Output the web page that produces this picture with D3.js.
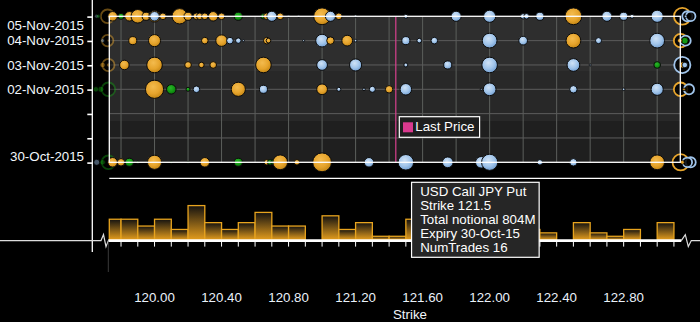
<!DOCTYPE html>
<html><head><meta charset="utf-8">
<script src="https://cdn.jsdelivr.net/npm/d3@7"></script>
<style>html,body{margin:0;padding:0;background:#000;overflow:hidden}
svg{display:block;font-family:"Liberation Sans",Arial,sans-serif}</style>
</head><body><svg id="c" width="700" height="322"></svg>
<script>
// ---------- data ----------
// bubble tuples: [strike, total notional (M), type]  C = USD Call JPY Put, P = USD Put JPY Call, S = other
const expiries = ["2015-10-30","2015-10-31","2015-11-01","2015-11-02","2015-11-03","2015-11-04","2015-11-05"];
const labelledExpiries = ["2015-10-30","2015-11-02","2015-11-03","2015-11-04","2015-11-05"];
const trades_05Nov = [
 [119.75,300,"P"],[119.80,122,"S"],[119.85,300,"P"],[119.90,609,"P"],[119.95,217,"P"],
 [120.00,440,"P"],[120.00,300,"C"],[120.05,148,"P"],[120.15,780,"P"],[120.20,217,"P"],
 [120.25,148,"P"],[120.27,148,"P"],[120.30,148,"P"],[120.35,300,"P"],[120.40,148,"P"],
 [120.50,217,"S"],[120.65,99,"S"],[120.67,148,"P"],[120.70,339,"C"],[120.75,148,"P"],
 [120.80,14,"C"],[120.86,14,"C"],[121.00,934,"P"],[121.05,339,"C"],[121.10,148,"P"],
 [121.20,23,"C"],[121.50,54,"C"],[121.80,339,"C"],[122.00,488,"C"],[122.20,99,"C"],
 [122.22,99,"C"],[122.30,217,"C"],[122.50,934,"P"],[122.70,339,"C"],[122.80,217,"C"],
 [122.85,54,"C"],[123.00,488,"C"]
];
const trades_04Nov = [
 [119.87,217,"P"],[120.00,488,"P"],[120.30,148,"P"],[120.40,440,"P"],[120.45,148,"C"],
 [120.50,99,"C"],[120.53,14,"C"],[120.67,148,"P"],[120.68,72,"P"],[120.89,14,"C"],
 [121.00,538,"C"],[121.05,186,"P"],[121.15,381,"P"],[121.20,23,"C"],[121.50,217,"C"],
 [121.58,72,"C"],[121.67,148,"C"],[122.00,723,"C"],[122.20,251,"C"],[122.50,723,"P"],
 [122.65,122,"C"],[123.00,723,"C"]
];
const trades_03Nov = [
 [119.82,300,"P"],[120.00,804,"P"],[120.20,148,"P"],[120.28,99,"P"],[120.35,148,"P"],
 [120.65,804,"P"],[121.00,381,"C"],[121.20,488,"C"],[121.50,54,"C"],[121.75,217,"C"],
 [122.00,804,"C"],[122.50,538,"C"],[122.60,14,"C"],[123.00,148,"S"]
];
const trades_02Nov = [
 [120.00,1098,"P"],[120.10,300,"S"],[120.20,54,"S"],[120.25,148,"C"],[120.50,664,"P"],
 [120.65,217,"C"],[121.00,381,"P"],[121.10,54,"C"],[121.25,23,"C"],[121.30,122,"C"],
 [121.40,186,"P"],[121.50,440,"C"],[121.95,14,"C"],[122.00,538,"C"],[122.50,186,"C"],
 [122.80,23,"C"],[123.00,488,"C"]
];
const trades_30Oct = [
 [119.75,300,"P"],[119.80,186,"P"],[119.85,217,"S"],[119.90,23,"S"],[120.00,664,"P"],
 [120.10,14,"S"],[120.20,14,"S"],[120.30,300,"P"],[120.50,217,"S"],[120.67,99,"P"],
 [120.69,99,"S"],[120.71,99,"S"],[120.75,723,"P"],[120.85,99,"P"],[121.00,1173,"P"],
 [121.28,300,"C"],[121.50,804,"C"],[121.75,381,"C"],[121.95,440,"C"],[122.00,868,"C"],
 [122.30,99,"C"],[122.50,186,"C"],[123.00,723,"P"]
];
// strikes outside the axis break
const outliers_05Nov = [[119.655,54,"C"],[119.665,54,"S"],[119.72,609,"P"],[123.15,934,"P"],[123.18,339,"C"],[123.20,300,"C"],[123.17,23,"C"]];
const outliers_04Nov = [[119.69,54,"C"],[119.72,440,"P"],[119.725,23,"P"],[123.14,609,"P"],[123.17,339,"C"],[123.165,148,"S"],[123.135,72,"P"]];
const outliers_03Nov = [[119.69,99,"P"],[119.725,488,"P"],[119.725,54,"P"],[123.15,868,"C"],[123.15,122,"P"],[123.165,99,"C"]];
const outliers_02Nov = [[119.65,99,"S"],[119.68,122,"S"],[119.725,609,"S"],[123.14,609,"P"],[123.19,339,"C"],[123.16,23,"P"]];
const outliers_30Oct = [[119.655,122,"C"],[119.69,99,"S"],[119.725,609,"S"],[123.14,868,"P"],[123.18,300,"C"],[123.20,339,"C"],[123.15,54,"P"]];

const histBinStarts = [119.7,119.8,119.9,120.0,120.1,120.2,120.3,120.4,120.5,120.6,120.7,120.8,120.9,121.0,121.1,121.2,121.3,121.4,121.5,121.6,121.7,121.8,121.9,122.0,122.1,122.2,122.3,122.4,122.5,122.6,122.7,122.8,122.9,123.0];
const histValues    = [6,6,4,6,3,10,5,3,5,8,4,4,0,7,3,5,1,1,6,3,4,2,3,8,0,3,2,0,5,2,1,3,0,5];
const xTickLabels = [120.00,120.40,120.80,121.20,121.60,122.00,122.40,122.80];
const strikeDomain = [119.73,123.138];
const lastPrice = 121.44;
const tooltipLines = ["USD Call JPY Put","Strike 121.5","Total notional 804M","Expiry 30-Oct-15","NumTrades 16"];
const tooltipTrade = {strike:121.5, expiry:"2015-10-30"};

// ---------- setup ----------
const parse = d3.utcParse("%Y-%m-%d");
const fmtDate = d3.utcFormat("%d-%b-%Y");
const svg = d3.select("#c");
const W = 700, H = 322;
const P = {l:109.3, r:680.3, t:16.3, b:162.3};
const x = d3.scaleLinear().domain(strikeDomain).range([P.l, P.r]);
const y = d3.scaleUtc().domain([parse(expiries[0]), parse(expiries[expiries.length-1])]).range([P.b, P.t]);
const rScale = d3.scaleSqrt().domain([0, 804]).range([0, 7.8]);
const HB = {base:239.7, top:178.3};
const hy = d3.scaleLinear().domain([0,18]).range([HB.base, HB.top]);

const colors = {P:["#f3bb4e","#e6a42c","#c48614"], C:["#cfe2f6","#a0c4ea","#74a0d2"], S:["#2ab52a","#139813","#0a700a"]};
const solid = {P:"#e6a42c", C:"#a0c4ea", S:"#139813"};
const defs = svg.append("defs");
Object.entries(colors).forEach(([k,c])=>{
  const g = defs.append("radialGradient").attr("id","g"+k).attr("cx","42%").attr("cy","36%").attr("r","65%");
  g.append("stop").attr("offset","0%").attr("stop-color",c[0]);
  g.append("stop").attr("offset","60%").attr("stop-color",c[1]);
  g.append("stop").attr("offset","100%").attr("stop-color",c[2]);
});
const bg = defs.append("linearGradient").attr("id","bgBand").attr("x1",0).attr("y1",0).attr("x2",0).attr("y2",1);
[[0,"#2e2e2e"],[0.3726,"#2e2e2e"],[0.3726,"#282828"],[0.715,"#282828"],[0.715,"#1f1f1f"],[1,"#1f1f1f"]]
  .forEach(([o,c])=>bg.append("stop").attr("offset",o).attr("stop-color",c));
const hg = defs.append("linearGradient").attr("id","barG").attr("x1",0).attr("y1",0).attr("x2",0).attr("y2",1);
hg.append("stop").attr("offset",0).attr("stop-color","#141210");
hg.append("stop").attr("offset",1).attr("stop-color","#e39c1c");

svg.append("rect").attr("width",W).attr("height",H).attr("fill","#000");

// plot background and grid
svg.append("rect").attr("x",P.l).attr("y",P.t).attr("width",P.r-P.l).attr("height",P.b-P.t).attr("fill","url(#bgBand)");
const gridX = d3.range(119.8, 123.01, 0.2);
svg.append("g").selectAll("line").data(gridX).join("line")
  .attr("x1",d=>x(d)).attr("x2",d=>x(d)).attr("y1",P.t).attr("y2",P.b)
  .attr("stroke","#5c5f5c").attr("stroke-width",1);
svg.append("g").selectAll("line").data(expiries.slice(1,-1)).join("line")
  .attr("x1",P.l).attr("x2",P.r).attr("y1",d=>y(parse(d))).attr("y2",d=>y(parse(d)))
  .attr("stroke","#5c5c5c").attr("stroke-width",1);

// last price line
svg.append("line").attr("x1",x(lastPrice)).attr("x2",x(lastPrice)).attr("y1",P.t).attr("y2",P.b)
  .attr("stroke","#d8408f").attr("stroke-width",1.2);

// bubbles
const rows = [["2015-11-05",trades_05Nov,outliers_05Nov],["2015-11-04",trades_04Nov,outliers_04Nov],
  ["2015-11-03",trades_03Nov,outliers_03Nov],["2015-11-02",trades_02Nov,outliers_02Nov],["2015-10-30",trades_30Oct,outliers_30Oct]];
const bubG = svg.append("g");
rows.forEach(([date, trades, outs])=>{
  const cy = y(parse(date));
  const os = outs.slice().sort((a,b)=>b[1]-a[1]);
  bubG.append("g").selectAll("circle").data(os).join("circle")
    .attr("cx",d=>x(d[0])).attr("cy",cy).attr("r",d=>rScale(d[1]))
    .attr("fill",d=>rScale(d[1])>4.5 ? "#000" : solid[d[2]])
    .attr("fill-opacity",d=>rScale(d[1])>4.5 ? 0.85 : 1)
    .attr("stroke",d=>rScale(d[1])>4.5 ? solid[d[2]] : "#000")
    .attr("stroke-width",d=>rScale(d[1])>4.5 ? 1.8 : 0.8)
    .attr("opacity",d=>d[0]<strikeDomain[0] ? 0.45 : 1);
  bubG.append("g").selectAll("circle").data(trades).join("circle")
    .attr("cx",d=>x(d[0])).attr("cy",cy).attr("r",d=>Math.max(1,rScale(d[1])))
    .attr("fill",d=>"url(#g"+d[2]+")").attr("stroke","#0b0b0b").attr("stroke-width",1);
});

// plot frame
svg.append("rect").attr("x",P.l).attr("y",P.t).attr("width",P.r-P.l).attr("height",P.b-P.t)
  .attr("fill","none").attr("stroke","#fff").attr("stroke-width",1.3);

// y axis
const axX = 92.3;
svg.append("line").attr("x1",axX).attr("x2",axX).attr("y1",0).attr("y2",252).attr("stroke","#fff").attr("stroke-width",1.3);
svg.append("g").selectAll("line").data(expiries).join("line")
  .attr("x1",axX-5).attr("x2",axX).attr("y1",d=>y(parse(d))+0.8).attr("y2",d=>y(parse(d))+0.8)
  .attr("stroke","#fff").attr("stroke-width",1.6);
svg.append("g").selectAll("text").data(labelledExpiries).join("text")
  .attr("x",84).attr("y",d=>Math.min(Math.max(y(parse(d)), P.t+9.3), P.b-5.6))
  .attr("dy","0.36em").attr("text-anchor","end").attr("fill","#f4f8fc").attr("font-size",13.3)
  .text(d=>fmtDate(parse(d)));

// histogram
svg.append("line").attr("x1",P.l).attr("x2",P.r+1).attr("y1",HB.top).attr("y2",HB.top).attr("stroke","#fff").attr("stroke-width",1.2);
const bins = histBinStarts.map((s,i)=>({s, v:histValues[i]})).filter(d=>d.v>0);
svg.append("g").selectAll("rect").data(bins).join("rect")
  .attr("x",d=>Math.max(x(d.s),P.l)).attr("width",d=>x(d.s+0.1)-Math.max(x(d.s),P.l))
  .attr("y",d=>hy(d.v)).attr("height",d=>HB.base-hy(d.v))
  .attr("fill","url(#barG)").attr("stroke","#e8a41e").attr("stroke-width",1.3);
// baseline with axis breaks
const by = 240.6;
svg.append("path").attr("d",`M0,${by}H101L103.5,${by-6}L106,${by+6}L108.3,${by}`)
  .attr("fill","none").attr("stroke","#ddd").attr("stroke-width",1.2);
svg.append("path").attr("d",`M${P.r+1},${by}L${P.r+5},${by-6}L${P.r+8},${by+6}L${P.r+11},${by}H700`)
  .attr("fill","none").attr("stroke","#ddd").attr("stroke-width",1.2);
svg.append("line").attr("x1",P.l-1).attr("x2",P.r+1).attr("y1",by).attr("y2",by).attr("stroke","#fff").attr("stroke-width",2.6);
svg.append("line").attr("x1",108.3).attr("x2",108.3).attr("y1",by+1).attr("y2",272).attr("stroke","#3a3a3a").attr("stroke-width",1);
const hTicks = d3.range(119.8,123.15,0.1);
svg.append("g").selectAll("line").data(hTicks).join("line")
  .attr("x1",d=>x(d)).attr("x2",d=>x(d)).attr("y1",by+1).attr("y2",by+6)
  .attr("stroke","#fff").attr("stroke-width",1);
svg.append("g").selectAll("text").data(xTickLabels).join("text")
  .attr("x",d=>x(d)).attr("y",302).attr("text-anchor","middle").attr("fill","#eaf1fa").attr("font-size",13.3)
  .text(d=>d3.format(".2f")(d));
svg.append("text").attr("x",410).attr("y",319).attr("text-anchor","middle").attr("fill","#f2f6fb").attr("font-size",13.3).text("Strike");

// legend
const lx = x(lastPrice)+3.5, ly = 116.7;
svg.append("rect").attr("x",lx).attr("y",ly).attr("width",80.3).attr("height",20.6).attr("fill","#1e1e1e").attr("stroke","#fff").attr("stroke-width",1.2);
svg.append("rect").attr("x",lx+3.7).attr("y",ly+5.6).attr("width",10).attr("height",10).attr("fill","#d9398e");
svg.append("text").attr("x",lx+16).attr("y",ly+14.6).attr("fill","#fff").attr("font-size",13.3).text("Last Price");

// tooltip
const tx = x(tooltipTrade.strike)+5.7, ty = y(parse(tooltipTrade.expiry))+20;
svg.append("rect").attr("x",tx).attr("y",ty).attr("width",127.6).attr("height",75).attr("fill","#262626").attr("stroke","#fff").attr("stroke-width",1.2);
svg.append("g").selectAll("text").data(tooltipLines).join("text")
  .attr("x",tx+8.6).attr("y",(d,i)=>ty+13.4+i*14.15).attr("fill","#fff").attr("font-size",13.3).text(d=>d);
</script></body></html>
